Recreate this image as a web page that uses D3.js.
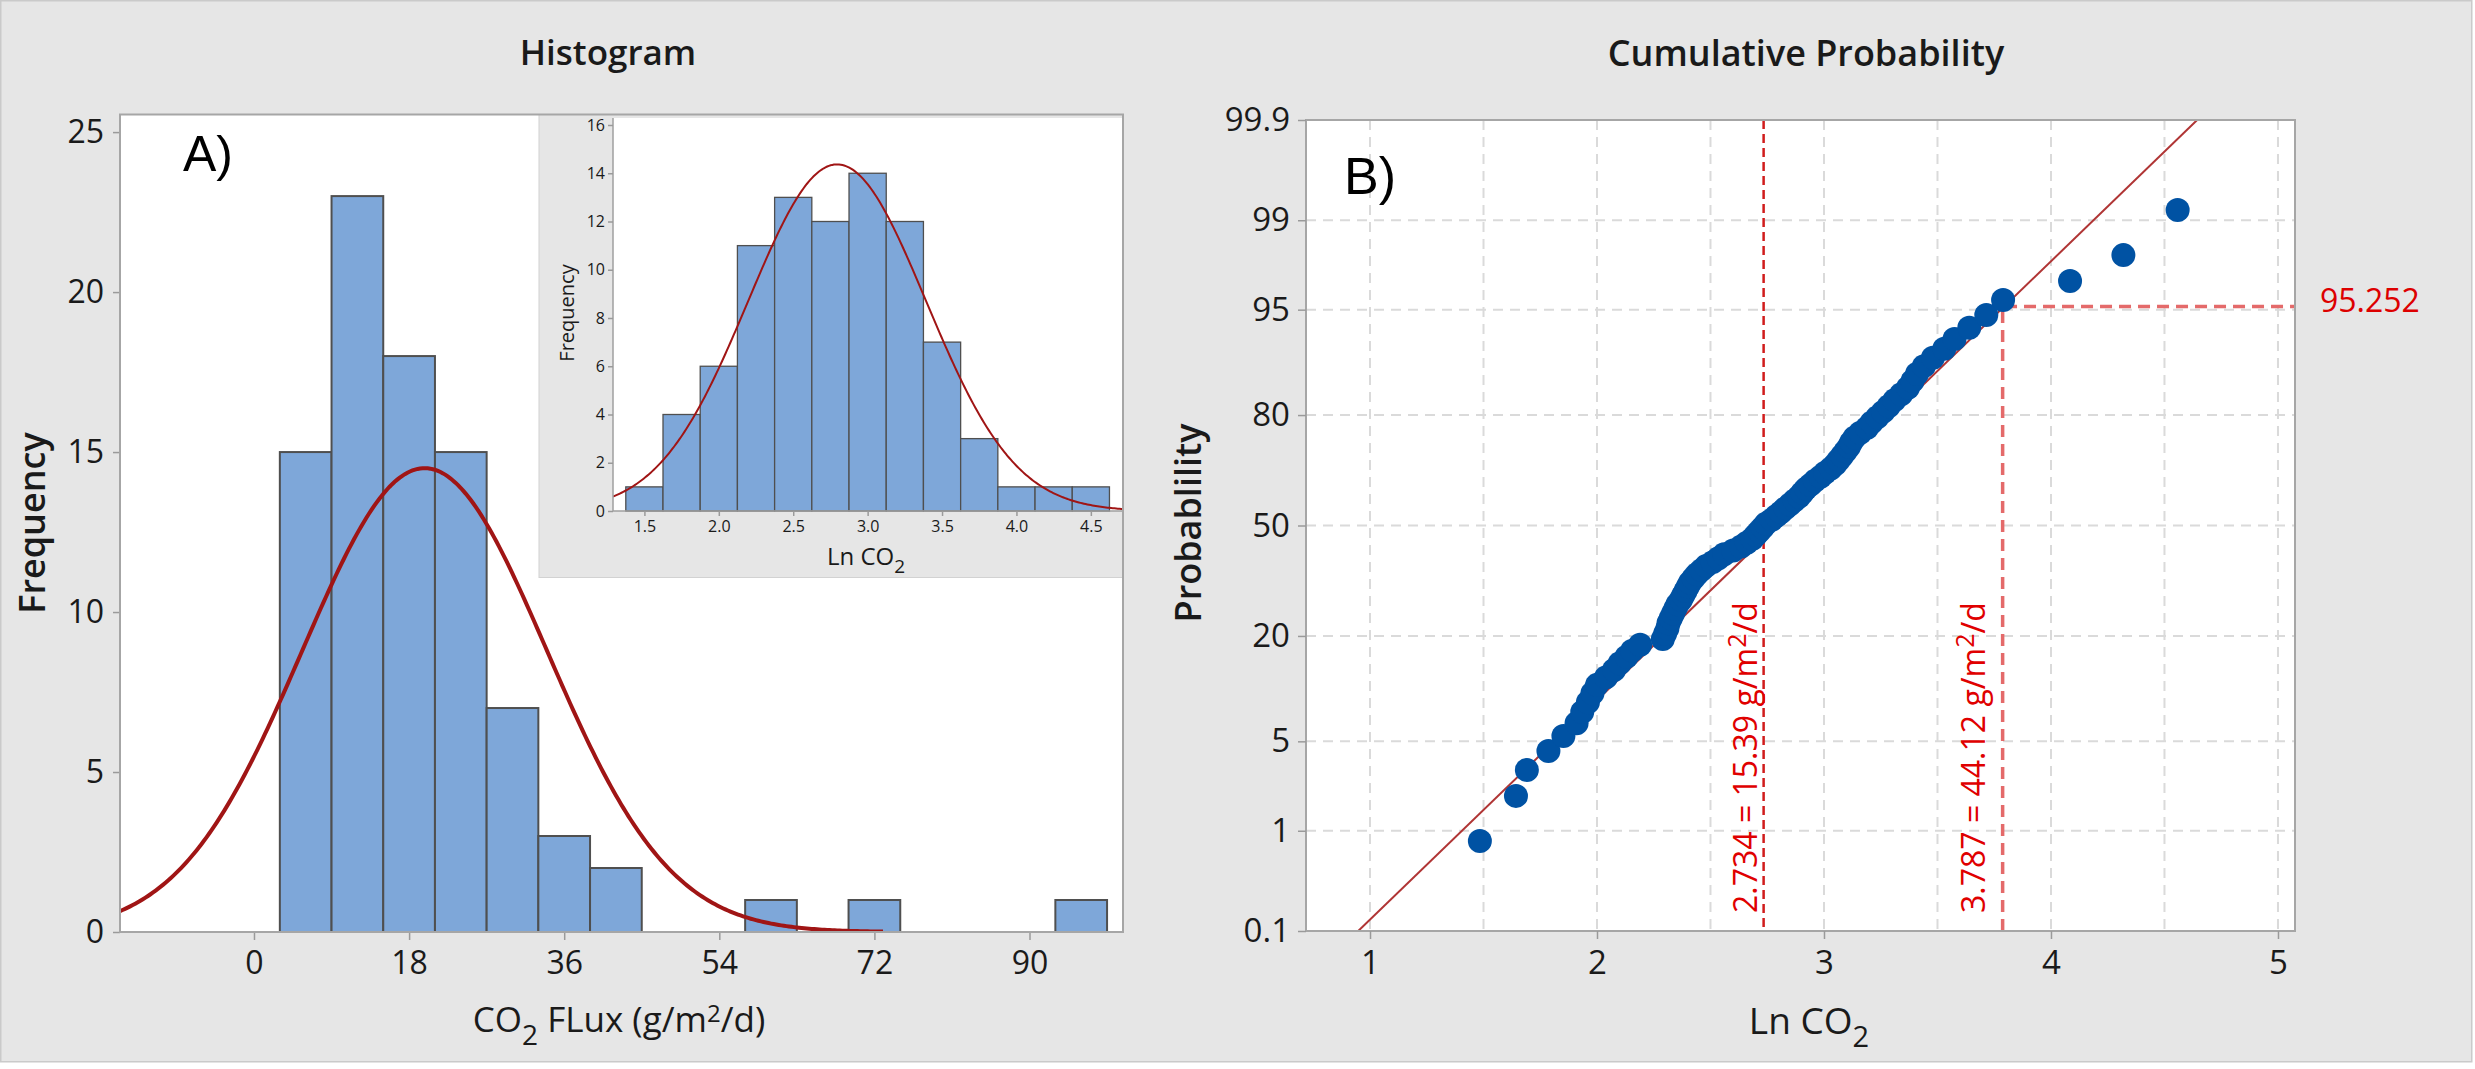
<!DOCTYPE html>
<html>
<head>
<meta charset="utf-8">
<script src="https://cdn.jsdelivr.net/npm/d3@7"></script>
<style>
  body { margin: 0; background: #ffffff; }
  text { font-family: "Open Sans", "Noto Sans", sans-serif; }
</style>
</head>
<body>
<div id="chart"></div>
<script>
// ---- data ----

// A) histogram of CO2 flux (bin mid points, width 6)
const fluxBinMids = [6, 12, 18, 24, 30, 36, 42, 48, 54, 60, 66, 72, 78, 84, 90, 96];
const fluxCounts = [15, 23, 18, 15, 7, 3, 2, 0, 0, 1, 0, 1, 0, 0, 0, 1];
const fluxBinWidth = 6;
const fluxTicks = [0, 18, 36, 54, 72, 90];
const fluxFreqTicks = [0, 5, 10, 15, 20, 25];
const fluxFit = { mean: 19.8, sd: 14.2, n: 86 };

// inset: histogram of Ln CO2 (bin mid points, width 0.25)
const lnBinMids = [1.5, 1.75, 2.0, 2.25, 2.5, 2.75, 3.0, 3.25, 3.5, 3.75, 4.0, 4.25, 4.5];
const lnCounts = [1, 4, 6, 11, 13, 12, 14, 12, 7, 3, 1, 1, 1];
const lnBinWidth = 0.25;
const lnTicks = [1.5, 2.0, 2.5, 3.0, 3.5, 4.0, 4.5];
const lnFreqTicks = [0, 2, 4, 6, 8, 10, 12, 14, 16];
const lnFit = { mean: 2.795, sd: 0.597, n: 86 };

// B) normal probability plot of Ln CO2 (sorted observations)
const lnPoints = [1.484, 1.643, 1.691, 1.786, 1.852, 1.91, 1.935, 1.96, 1.98, 2.00,
  2.04, 2.075, 2.10, 2.13, 2.155, 2.19, 2.29, 2.30, 2.31, 2.315,
  2.325, 2.335, 2.345, 2.355, 2.37, 2.38, 2.39, 2.40, 2.41, 2.425,
  2.44, 2.46, 2.48, 2.51, 2.535, 2.56, 2.60, 2.635, 2.66, 2.685,
  2.70, 2.715, 2.73, 2.745, 2.77, 2.79, 2.81, 2.83, 2.85, 2.87,
  2.89, 2.905, 2.92, 2.94, 2.96, 2.985, 3.005, 3.03, 3.05, 3.065,
  3.08, 3.095, 3.11, 3.12, 3.135, 3.16, 3.19, 3.21, 3.235, 3.26,
  3.285, 3.31, 3.34, 3.37, 3.39, 3.41, 3.44, 3.48, 3.53, 3.575,
  3.64, 3.715, 3.789, 4.084, 4.319, 4.558];
const probTicks = [0.1, 1, 5, 20, 50, 80, 95, 99, 99.9];
const probTickLabels = ["0.1", "1", "5", "20", "50", "80", "95", "99", "99.9"];
const probGrid = [1, 5, 20, 50, 80, 95, 99];
const lnAxisTicks = [1, 2, 3, 4, 5];
const lnGridX = [1, 1.5, 2, 2.5, 3, 3.5, 4, 4.5, 5];
const probFit = { mean: 2.796, sd: 0.598 };
const refMedian = { x: 2.734, label: "2.734 = 15.39 g/m", tail: "/d" };
const refUpper = { x: 3.787, p: 95.252, label: "3.787 = 44.12 g/m", tail: "/d" };

// ---- helpers ----
// inverse of the standard normal cdf (Acklam), used for the probability scale
function qnorm(p) {
  const a = [-3.969683028665376e+01, 2.209460984245205e+02, -2.759285104469687e+02, 1.383577518672690e+02, -3.066479806614716e+01, 2.506628277459239e+00];
  const b = [-5.447609879822406e+01, 1.615858368580409e+02, -1.556989798598866e+02, 6.680131188771972e+01, -1.328068155288572e+01];
  const c = [-7.784894002430293e-03, -3.223964580411365e-01, -2.400758277161838e+00, -2.549732539343734e+00, 4.374664141464968e+00, 2.938163982698783e+00];
  const d = [7.784695709041462e-03, 3.224671290700398e-01, 2.445134137142996e+00, 3.754408661907416e+00];
  const pl = 0.02425;
  let q, r;
  if (p < pl) {
    q = Math.sqrt(-2 * Math.log(p));
    return (((((c[0] * q + c[1]) * q + c[2]) * q + c[3]) * q + c[4]) * q + c[5]) / ((((d[0] * q + d[1]) * q + d[2]) * q + d[3]) * q + 1);
  }
  if (p > 1 - pl) {
    q = Math.sqrt(-2 * Math.log(1 - p));
    return -(((((c[0] * q + c[1]) * q + c[2]) * q + c[3]) * q + c[4]) * q + c[5]) / ((((d[0] * q + d[1]) * q + d[2]) * q + d[3]) * q + 1);
  }
  q = p - 0.5; r = q * q;
  return (((((a[0] * r + a[1]) * r + a[2]) * r + a[3]) * r + a[4]) * r + a[5]) * q / (((((b[0] * r + b[1]) * r + b[2]) * r + b[3]) * r + b[4]) * r + 1);
}

// fitted normal curve scaled to counts
function fitCurve(fit, w, x0, x1) {
  const k = fit.n * w / (fit.sd * Math.sqrt(2 * Math.PI));
  return d3.range(0, 301).map(i => {
    const x = x0 + (x1 - x0) * i / 300;
    return [x, k * Math.exp(-((x - fit.mean) ** 2) / (2 * fit.sd * fit.sd))];
  });
}

function styleAxis(g, size) {
  g.select(".domain").remove();
  g.selectAll(".tick line").attr("stroke", "#9a9a9a").attr("stroke-width", 1.5);
  g.selectAll(".tick text")
    .attr("fill", "#1a1a1a")
    .style("font-family", '"Open Sans", sans-serif')
    .style("font-size", size + "px");
}

const W = 2475, H = 1069;
const BAR = "#7ea7d9", BAR_EDGE = "#4f4f4f", CURVE = "#a01515";

const svg = d3.select("#chart").append("svg")
  .attr("width", W).attr("height", H);

// background
svg.append("rect").attr("x", 0.75).attr("y", 0.75).attr("width", 2471).attr("height", 1061)
  .attr("fill", "#e6e6e6").attr("stroke", "#cacaca").attr("stroke-width", 1.5);

// ================= A) Histogram =================
const A = { left: 120, right: 1123, top: 114.5, bottom: 932 };
const xA = d3.scaleLinear().domain([-15.55, 100.85]).range([A.left, A.right]);
const yA = d3.scaleLinear().domain([0, 25.55]).range([A.bottom, A.top]);

svg.append("text").attr("x", 608).attr("y", 65).attr("text-anchor", "middle")
  .style("font-size", "35px").style("font-weight", 600).attr("fill", "#1a1a1a").text("Histogram");

svg.append("rect").attr("x", A.left).attr("y", A.top)
  .attr("width", A.right - A.left).attr("height", A.bottom - A.top)
  .attr("fill", "#ffffff");

svg.append("defs").append("clipPath").attr("id", "clipA")
  .append("rect").attr("x", A.left).attr("y", A.top)
  .attr("width", A.right - A.left).attr("height", A.bottom - A.top);

// bars
svg.append("g").selectAll("rect")
  .data(fluxBinMids.map((m, i) => ({ m, c: fluxCounts[i] })).filter(d => d.c > 0))
  .join("rect")
  .attr("x", d => xA(d.m - fluxBinWidth / 2))
  .attr("y", d => yA(d.c))
  .attr("width", d => xA(d.m + fluxBinWidth / 2) - xA(d.m - fluxBinWidth / 2))
  .attr("height", d => yA(0) - yA(d.c))
  .attr("fill", BAR).attr("stroke", BAR_EDGE).attr("stroke-width", 2);

// fitted curve
svg.append("path")
  .datum(fitCurve(fluxFit, fluxBinWidth, -15.55, 73))
  .attr("clip-path", "url(#clipA)")
  .attr("fill", "none").attr("stroke", CURVE).attr("stroke-width", 4)
  .attr("d", d3.line().x(d => xA(d[0])).y(d => yA(d[1])));

// axes
svg.append("g").attr("transform", `translate(${A.left},0)`)
  .call(d3.axisLeft(yA).tickValues(fluxFreqTicks).tickSize(7).tickPadding(9))
  .call(g => styleAxis(g, 32));
svg.append("g").attr("transform", `translate(0,${A.bottom})`)
  .call(d3.axisBottom(xA).tickValues(fluxTicks).tickSize(8).tickPadding(11))
  .call(g => styleAxis(g, 32));

// ---- inset ----
svg.append("rect").attr("x", 539).attr("y", A.top).attr("width", A.right - 539).attr("height", 577.5 - A.top)
  .attr("fill", "#e6e6e6").attr("stroke", "#d2d2d2").attr("stroke-width", 1);

const I = { left: 613, right: 1123, top: 118, bottom: 511 };
const xI = d3.scaleLinear().domain([1.289, 4.716]).range([I.left, I.right]);
const yI = d3.scaleLinear().domain([0, 16.29]).range([I.bottom, I.top]);

svg.append("rect").attr("x", I.left).attr("y", I.top)
  .attr("width", I.right - I.left).attr("height", I.bottom - I.top)
  .attr("fill", "#ffffff");
svg.append("defs").append("clipPath").attr("id", "clipI")
  .append("rect").attr("x", I.left).attr("y", I.top)
  .attr("width", I.right - I.left).attr("height", I.bottom - I.top);

svg.append("g").selectAll("rect")
  .data(lnBinMids.map((m, i) => ({ m, c: lnCounts[i] })))
  .join("rect")
  .attr("x", d => xI(d.m - lnBinWidth / 2))
  .attr("y", d => yI(d.c))
  .attr("width", d => xI(d.m + lnBinWidth / 2) - xI(d.m - lnBinWidth / 2))
  .attr("height", d => yI(0) - yI(d.c))
  .attr("fill", BAR).attr("stroke", BAR_EDGE).attr("stroke-width", 1.3);

svg.append("path")
  .datum(fitCurve(lnFit, lnBinWidth, 1.289, 4.716))
  .attr("clip-path", "url(#clipI)")
  .attr("fill", "none").attr("stroke", CURVE).attr("stroke-width", 2)
  .attr("d", d3.line().x(d => xI(d[0])).y(d => yI(d[1])));

svg.append("path").attr("d", `M${I.left},${I.top}V${I.bottom}H${I.right}`)
  .attr("fill", "none").attr("stroke", "#a0a0a0").attr("stroke-width", 1.5);

svg.append("g").attr("transform", `translate(${I.left},0)`)
  .call(d3.axisLeft(yI).tickValues(lnFreqTicks).tickSize(5).tickPadding(3))
  .call(g => styleAxis(g, 16));
svg.append("g").attr("transform", `translate(0,${I.bottom})`)
  .call(d3.axisBottom(xI).tickValues(lnTicks).tickFormat(d3.format(".1f")).tickSize(5).tickPadding(5))
  .call(g => styleAxis(g, 16));

svg.append("text").attr("transform", "translate(567,313) rotate(-90)")
  .attr("text-anchor", "middle").attr("dy", "0.35em")
  .style("font-size", "20px").attr("fill", "#1a1a1a").text("Frequency");

const insetLab = svg.append("text").attr("x", 866).attr("y", 565).attr("text-anchor", "middle")
  .style("font-size", "24px").attr("fill", "#1a1a1a");
insetLab.append("tspan").text("Ln CO");
insetLab.append("tspan").attr("dy", 8).style("font-size", "19px").text("2");

// frame on top
svg.append("rect").attr("x", A.left).attr("y", A.top)
  .attr("width", A.right - A.left).attr("height", A.bottom - A.top)
  .attr("fill", "none").attr("stroke", "#a6a6a6").attr("stroke-width", 2);

// labels
svg.append("text").attr("transform", "translate(32,523) rotate(-90)")
  .attr("text-anchor", "middle").attr("dy", "0.36em")
  .style("font-size", "36px").style("font-weight", 600).attr("fill", "#1a1a1a").text("Frequency");

const xLabA = svg.append("text").attr("x", 619).attr("y", 1032).attr("text-anchor", "middle")
  .style("font-size", "35px").attr("fill", "#1a1a1a");
xLabA.append("tspan").text("CO");
xLabA.append("tspan").attr("dy", 13).style("font-size", "28px").text("2");
xLabA.append("tspan").attr("dy", -13).text(" FLux (g/m");
xLabA.append("tspan").attr("dy", -10).style("font-size", "24px").text("2");
xLabA.append("tspan").attr("dy", 10).text("/d)");

svg.append("text").attr("x", 183).attr("y", 171)
  .style("font-family", '"Liberation Sans", Arial, sans-serif')
  .style("font-size", "50px").attr("fill", "#000000").text("A)");

// ================= B) Cumulative probability =================
const B = { left: 1306, right: 2295, top: 120, bottom: 931 };
const xB = d3.scaleLinear().domain([0.718, 5.075]).range([B.left, B.right]);
const zMax = qnorm(0.999);
const yZ = d3.scaleLinear().domain([-zMax, zMax]).range([B.bottom, B.top]);
const yP = p => yZ(qnorm(p / 100));

svg.append("text").attr("x", 1806).attr("y", 66).attr("text-anchor", "middle")
  .style("font-size", "36px").style("font-weight", 600).attr("fill", "#1a1a1a").text("Cumulative Probability");

svg.append("rect").attr("x", B.left).attr("y", B.top)
  .attr("width", B.right - B.left).attr("height", B.bottom - B.top)
  .attr("fill", "#ffffff");
svg.append("defs").append("clipPath").attr("id", "clipB")
  .append("rect").attr("x", B.left).attr("y", B.top)
  .attr("width", B.right - B.left).attr("height", B.bottom - B.top);

// grid
const grid = svg.append("g").attr("stroke", "#dadada").attr("stroke-width", 2)
  .attr("stroke-dasharray", "10,7");
grid.selectAll("line.h").data(probGrid).join("line").attr("class", "h")
  .attr("x1", B.left).attr("x2", B.right)
  .attr("y1", d => yP(d)).attr("y2", d => yP(d));
grid.selectAll("line.v").data(lnGridX).join("line").attr("class", "v")
  .attr("x1", d => xB(d)).attr("x2", d => xB(d))
  .attr("y1", B.top).attr("y2", B.bottom);

// fitted line
svg.append("line").attr("clip-path", "url(#clipB)")
  .attr("x1", xB(probFit.mean - zMax * probFit.sd)).attr("y1", yZ(-zMax))
  .attr("x2", xB(probFit.mean + zMax * probFit.sd)).attr("y2", yZ(zMax))
  .attr("stroke", "#b03535").attr("stroke-width", 2);

// reference lines
svg.append("line")
  .attr("x1", xB(refMedian.x)).attr("x2", xB(refMedian.x))
  .attr("y1", B.top).attr("y2", B.bottom)
  .attr("stroke", "#d01c1c").attr("stroke-width", 2.5).attr("stroke-dasharray", "9,5");
svg.append("path")
  .attr("d", `M${xB(refUpper.x)},${B.bottom}V${yP(refUpper.p)}H${B.right}`)
  .attr("fill", "none").attr("stroke", "#e46a6a").attr("stroke-width", 3.5)
  .attr("stroke-dasharray", "12,7");

// points (median ranks)
const n = lnPoints.length;
svg.append("g").attr("fill", "#0052a3").selectAll("circle")
  .data(lnPoints)
  .join("circle")
  .attr("cx", d => xB(d))
  .attr("cy", (d, i) => yZ(qnorm((i + 1 - 0.3) / (n + 0.4))))
  .attr("r", 12);

// annotation texts
function vertLabel(x, ref) {
  const t = svg.append("text").attr("transform", `translate(${x},913) rotate(-90)`)
    .style("font-size", "32px").attr("fill", "#e00000");
  t.append("tspan").text(ref.label);
  t.append("tspan").attr("dy", -11).style("font-size", "25px").text("2");
  t.append("tspan").attr("dy", 11).text(ref.tail);
}
vertLabel(1757, refMedian);
vertLabel(1985, refUpper);

svg.append("text").attr("x", 2320).attr("y", 312)
  .style("font-size", "32px").attr("fill", "#dd0000").text(refUpper.p.toFixed(3));

// frame
svg.append("rect").attr("x", B.left).attr("y", B.top)
  .attr("width", B.right - B.left).attr("height", B.bottom - B.top)
  .attr("fill", "none").attr("stroke", "#a6a6a6").attr("stroke-width", 2);

// axes
svg.append("g").attr("transform", `translate(${B.left},0)`)
  .call(d3.axisLeft(yZ).tickValues(probTicks.map(p => qnorm(p / 100)))
    .tickFormat((d, i) => probTickLabels[i]).tickSize(8).tickPadding(8))
  .call(g => styleAxis(g, 33));
svg.append("g").attr("transform", `translate(0,${B.bottom})`)
  .call(d3.axisBottom(xB).tickValues(lnAxisTicks).tickFormat(d3.format("d")).tickSize(8).tickPadding(12))
  .call(g => styleAxis(g, 33));

svg.append("text").attr("transform", "translate(1188,523) rotate(-90)")
  .attr("text-anchor", "middle").attr("dy", "0.36em")
  .style("font-size", "36px").style("font-weight", 600).attr("fill", "#1a1a1a").text("Probablility");

const xLabB = svg.append("text").attr("x", 1809).attr("y", 1034).attr("text-anchor", "middle")
  .style("font-size", "37px").attr("fill", "#1a1a1a");
xLabB.append("tspan").text("Ln CO");
xLabB.append("tspan").attr("dy", 13).style("font-size", "29px").text("2");

svg.append("text").attr("x", 1344).attr("y", 194)
  .style("font-family", '"Liberation Sans", Arial, sans-serif')
  .style("font-size", "52px").attr("fill", "#000000").text("B)");
</script>
